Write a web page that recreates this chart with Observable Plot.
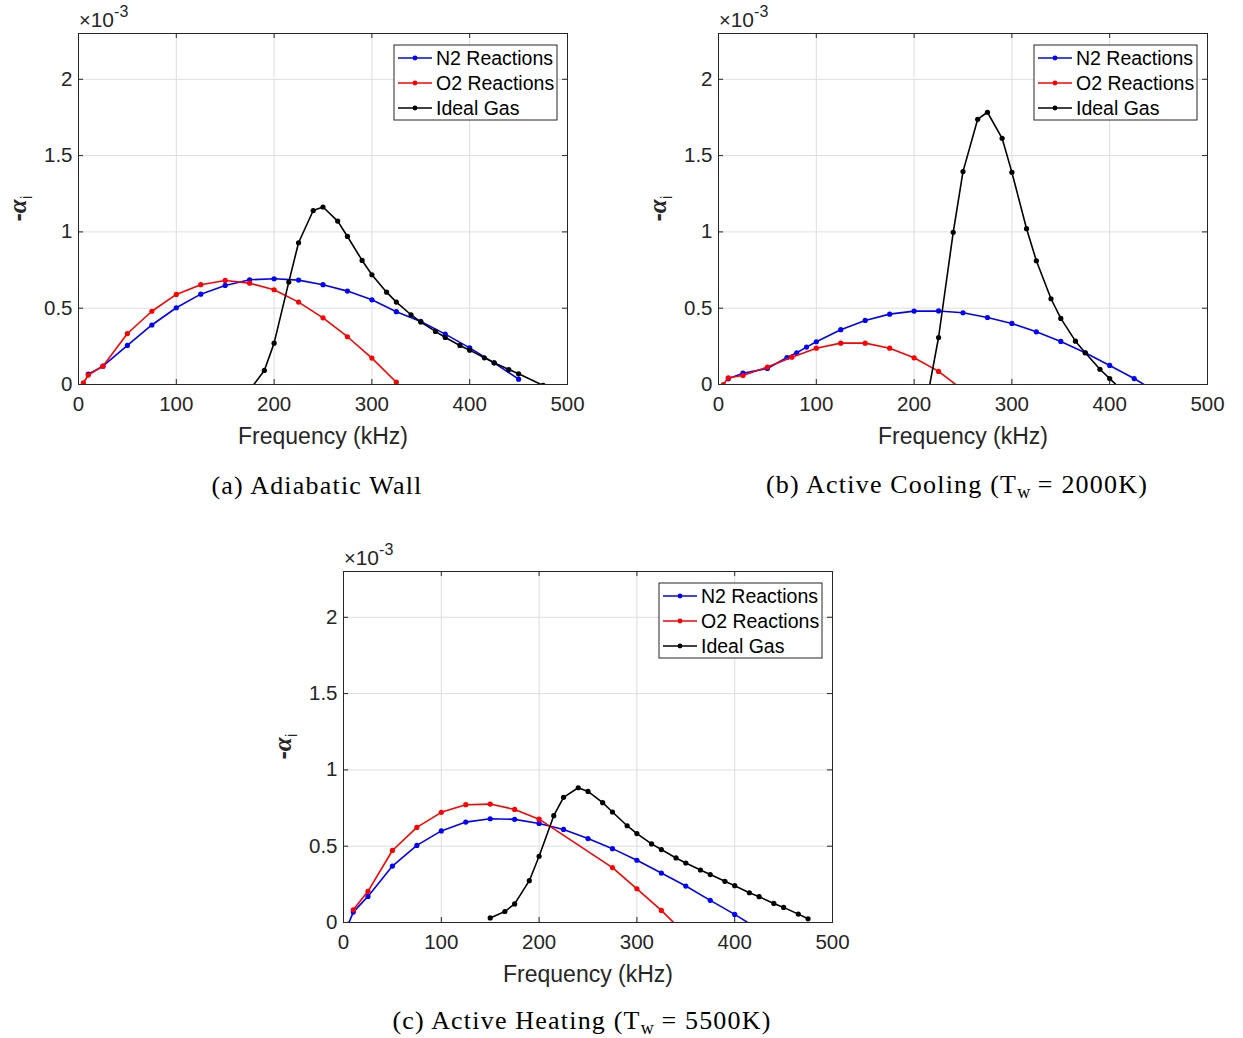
<!DOCTYPE html>
<html>
<head>
<meta charset="utf-8">
<script src="https://cdn.jsdelivr.net/npm/d3@7"></script>
<script src="https://cdn.jsdelivr.net/npm/@observablehq/plot@0.6"></script>
<style>
  body { margin: 0; background: #fff; }
  #root { position: relative; width: 1243px; height: 1038px; overflow: hidden; background: #fff; }
  .panel { position: absolute; }
  .caption { position: absolute; transform: translate(-50%, -50%); font-family: "Liberation Serif", "Times New Roman", serif; font-size: 26px; letter-spacing: 1.2px; color: #000; white-space: nowrap; }
  .caption sub { font-size: 18px; vertical-align: -5px; letter-spacing: 0; }
</style>
</head>
<body>
<div id="root"></div>
<script>
// ---------------- data (frequency in kHz, -alpha_i in units of 1e-3) ----------------
const xTicks = [0, 100, 200, 300, 400, 500];
const yTicks = [0, 0.5, 1, 1.5, 2];
const seriesNames = ["N2 Reactions", "O2 Reactions", "Ideal Gas"];
const seriesColors = ["#0000ff", "#ff0000", "#000000"];
const captions = ["(a) Adiabatic Wall", "(b) Active Cooling (T<sub>w</sub> = 2000K)", "(c) Active Heating (T<sub>w</sub> = 5500K)"];

// (a) Adiabatic Wall
const freqN2A = [10, 25, 50, 75, 100, 125, 150, 175, 200, 225, 250, 275, 300, 325, 350, 375, 400, 425, 450];
const alphaN2A = [0.068, 0.12, 0.256, 0.39, 0.503, 0.592, 0.649, 0.686, 0.693, 0.684, 0.654, 0.612, 0.555, 0.477, 0.413, 0.33, 0.24, 0.142, 0.035];
const freqO2A = [5, 10, 25, 50, 75, 100, 125, 150, 175, 200, 225, 250, 275, 300, 325];
const alphaO2A = [0.01, 0.062, 0.12, 0.334, 0.48, 0.59, 0.654, 0.682, 0.664, 0.621, 0.54, 0.437, 0.313, 0.173, 0.015];
const freqIdealA = [175, 190, 200, 215, 225, 240, 250, 265, 275, 290, 300, 315, 325, 340, 350, 365, 375, 390, 400, 415, 425, 440, 450, 475];
const alphaIdealA = [-0.037, 0.092, 0.271, 0.671, 0.929, 1.14, 1.163, 1.071, 0.97, 0.813, 0.719, 0.605, 0.54, 0.457, 0.409, 0.348, 0.308, 0.256, 0.225, 0.175, 0.142, 0.098, 0.07, -0.006];

// (b) Active Cooling
const freqN2B = [10, 25, 50, 70, 80, 90, 100, 125, 150, 175, 200, 225, 250, 275, 300, 325, 350, 375, 400, 425, 450];
const alphaN2B = [0.037, 0.074, 0.105, 0.177, 0.208, 0.245, 0.28, 0.359, 0.42, 0.461, 0.481, 0.482, 0.47, 0.439, 0.4, 0.345, 0.282, 0.208, 0.125, 0.039, -0.058];
const freqO2B = [5, 10, 25, 50, 75, 100, 125, 150, 175, 200, 225, 250];
const alphaO2B = [0.0, 0.044, 0.059, 0.114, 0.179, 0.238, 0.271, 0.271, 0.238, 0.175, 0.086, -0.036];
const freqIdealB = [215, 225, 240, 250, 265, 275, 290, 300, 315, 325, 340, 350, 365, 375, 390, 400, 415];
const alphaIdealB = [-0.035, 0.308, 0.997, 1.395, 1.738, 1.784, 1.613, 1.39, 1.021, 0.811, 0.562, 0.433, 0.284, 0.208, 0.1, 0.039, -0.053];

// (c) Active Heating
const freqN2C = [5, 10, 25, 50, 75, 100, 125, 150, 175, 200, 225, 250, 275, 300, 325, 350, 375, 400, 425];
const alphaN2C = [-0.01, 0.068, 0.171, 0.37, 0.505, 0.6, 0.658, 0.68, 0.676, 0.649, 0.61, 0.55, 0.484, 0.408, 0.324, 0.239, 0.145, 0.053, -0.046];
const freqO2C = [10, 25, 50, 75, 100, 125, 150, 175, 200, 275, 300, 325, 350];
const alphaO2C = [0.083, 0.204, 0.472, 0.623, 0.722, 0.772, 0.776, 0.741, 0.677, 0.36, 0.221, 0.079, -0.079];
const freqIdealC = [150, 165, 175, 190, 200, 215, 225, 240, 250, 265, 275, 290, 300, 315, 325, 340, 350, 365, 375, 390, 400, 415, 425, 440, 450, 465, 475];
const alphaIdealC = [0.03, 0.072, 0.122, 0.274, 0.434, 0.70, 0.82, 0.883, 0.859, 0.785, 0.724, 0.634, 0.583, 0.515, 0.478, 0.423, 0.39, 0.344, 0.314, 0.27, 0.241, 0.195, 0.169, 0.125, 0.099, 0.055, 0.024];

// ---------------- layout ----------------
const FW = 489, FH = 351;           // frame size
const ML = 78, MT = 33, MR = 30, MB = 80;
const W = ML + FW + MR, H = MT + FH + MB;
const AX = "#262626";
const SANS = "'Liberation Sans', Arial, Helvetica, sans-serif";

const panels = [
  {left: 78, top: 33, cap: [317, 486], series: [[freqN2A, alphaN2A], [freqO2A, alphaO2A], [freqIdealA, alphaIdealA]]},
  {left: 718, top: 33, cap: [957, 486], series: [[freqN2B, alphaN2B], [freqO2B, alphaO2B], [freqIdealB, alphaIdealB]]},
  {left: 343, top: 571, cap: [582, 1022], series: [[freqN2C, alphaN2C], [freqO2C, alphaO2C], [freqIdealC, alphaIdealC]]}
];

const root = document.getElementById("root");

panels.forEach((p, pi) => {
  const seriesMarks = [];
  p.series.forEach(([xs, ys], si) => {
    const data = xs.map((x, i) => ({x, y: ys[i]}));
    seriesMarks.push(Plot.line(data, {x: "x", y: "y", stroke: seriesColors[si], strokeWidth: 1.6, clip: true}));
    seriesMarks.push(Plot.dot(data, {x: "x", y: "y", r: 2.6, fill: seriesColors[si], stroke: null, clip: true}));
  });

  const svg = Plot.plot({
    width: W, height: H,
    marginLeft: ML, marginTop: MT, marginRight: MR, marginBottom: MB,
    style: {fontFamily: SANS, color: AX, background: "transparent", overflow: "visible"},
    x: {domain: [0, 500]},
    y: {domain: [0, 2.3]},
    marks: [
      Plot.gridX(xTicks, {stroke: "#dedede", strokeOpacity: 1, strokeWidth: 1}),
      Plot.gridY(yTicks, {stroke: "#dedede", strokeOpacity: 1, strokeWidth: 1}),
      ...seriesMarks,
      Plot.tickX(xTicks, {x: d => d, insetTop: FH - 5, stroke: AX}),
      Plot.tickX(xTicks, {x: d => d, insetBottom: FH - 5, stroke: AX}),
      Plot.tickY(yTicks, {y: d => d, insetRight: FW - 5, stroke: AX}),
      Plot.tickY(yTicks, {y: d => d, insetLeft: FW - 5, stroke: AX}),
      Plot.axisX({ticks: xTicks, tickSize: 0, tickPadding: 12, fontSize: 20.5, label: null, tickFormat: d => String(d)}),
      Plot.axisY({ticks: yTicks, tickSize: 0, tickPadding: 6, fontSize: 20.5, label: null, tickFormat: d => String(d)}),
      Plot.text(["Frequency (kHz)"], {frameAnchor: "bottom", dy: 43, lineAnchor: "top", fontSize: 23, fill: AX}),
      Plot.frame({stroke: AX, strokeWidth: 1})
    ]
  });

  svg.classList.add("panel");
  svg.style.left = (p.left - ML) + "px";
  svg.style.top = (p.top - MT) + "px";
  root.appendChild(svg);

  const s = d3.select(svg);

  // exponent label
  const ex = s.append("text").attr("x", ML + 1).attr("y", MT - 6).attr("text-anchor", "start")
    .attr("font-family", SANS).attr("font-size", 21).attr("fill", AX);
  ex.append("tspan").text("×").attr("font-size", 20);
  ex.append("tspan").text("10");
  ex.append("tspan").text("-3").attr("font-size", 16).attr("dy", -10);

  // y label
  const yl = s.append("text")
    .attr("transform", `translate(${ML - 52},${MT + FH / 2}) rotate(-90)`)
    .attr("text-anchor", "middle").attr("font-family", SANS).attr("font-size", 25).attr("fill", AX).attr("font-weight", "bold");
  yl.append("tspan").text("-");
  yl.append("tspan").text("α").attr("font-style", "italic").attr("font-family", "'Liberation Serif', serif");
  yl.append("tspan").text("i").attr("dy", 6).attr("font-size", 17).attr("font-weight", "normal");

  // legend
  const lx = ML + FW - 173, ly = MT + 12;
  const lg = s.append("g");
  lg.append("rect").attr("x", lx).attr("y", ly).attr("width", 163).attr("height", 75)
    .attr("fill", "#fff").attr("stroke", AX).attr("stroke-width", 1);
  seriesNames.forEach((name, i) => {
    const cy = ly + 13 + i * 25;
    lg.append("line").attr("x1", lx + 4).attr("x2", lx + 38).attr("y1", cy).attr("y2", cy)
      .attr("stroke", seriesColors[i]).attr("stroke-width", 1.6);
    lg.append("circle").attr("cx", lx + 21).attr("cy", cy).attr("r", 2.4).attr("fill", seriesColors[i]);
    lg.append("text").attr("x", lx + 42).attr("y", cy).attr("dy", "0.36em").attr("text-anchor", "start")
      .attr("font-family", SANS).attr("font-size", 19.5).attr("fill", "#000").text(name);
  });

  // caption
  const cap = document.createElement("div");
  cap.className = "caption";
  cap.style.left = p.cap[0] + "px";
  cap.style.top = p.cap[1] + "px";
  cap.innerHTML = captions[pi];
  root.appendChild(cap);
});
</script>
</body>
</html>
